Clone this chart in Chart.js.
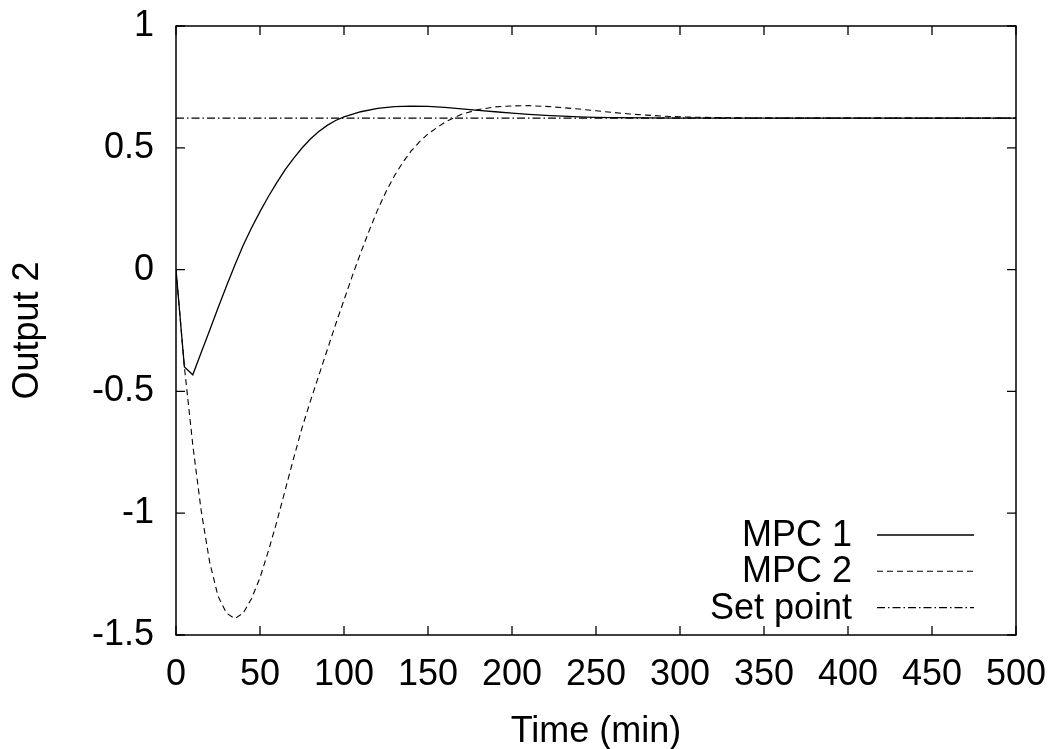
<!DOCTYPE html>
<html>
<head>
<meta charset="utf-8">
<script src="https://cdn.jsdelivr.net/npm/chart.js@4/dist/chart.umd.min.js"></script>
<style>
  html, body { margin: 0; padding: 0; background: #fff; }
  #wrap { width: 1054px; height: 749px; }
</style>
</head>
<body>
<div id="wrap"><canvas id="c" width="1054" height="749"></canvas></div>
<script>
// ---- data ----
const xTicks = [0, 50, 100, 150, 200, 250, 300, 350, 400, 450, 500];
const yTicks = [-1.5, -1, -0.5, 0, 0.5, 1];
const seriesNames = ['MPC 1', 'MPC 2', 'Set point'];

const mpc1Time = [0, 5, 10, 15, 20, 25, 30, 35, 40, 45, 50, 55, 60, 65, 70, 75, 80, 85, 90, 95, 100,
  110, 120, 130, 140, 150, 160, 170, 180, 190, 200, 210, 220, 230, 240, 250, 260, 280, 300, 350, 400, 450, 500];
const mpc1Value = [0, -0.40, -0.432, -0.34, -0.25, -0.158, -0.068, 0.018, 0.1, 0.172, 0.238, 0.3, 0.357, 0.41, 0.457, 0.499, 0.536, 0.567, 0.592, 0.612, 0.627,
  0.648, 0.662, 0.669, 0.671, 0.670, 0.666, 0.660, 0.654, 0.648, 0.642, 0.637, 0.633, 0.630, 0.627, 0.625, 0.624, 0.623, 0.622, 0.622, 0.622, 0.622, 0.622];

const mpc2Time = [0, 5, 10, 15, 20, 25, 30, 35, 40, 45, 50, 55, 60, 65, 70, 75, 80, 85, 90, 95, 100,
  105, 110, 115, 120, 125, 130, 135, 140, 145, 150, 160, 170, 180, 190, 200, 210, 220, 230, 240, 250, 260, 270, 280, 290, 300, 320, 350, 400, 450, 500];
const mpc2Value = [0, -0.40, -0.72, -0.99, -1.20, -1.34, -1.41, -1.433, -1.41, -1.35, -1.265, -1.155, -1.035, -0.905, -0.775, -0.65, -0.54, -0.435, -0.33, -0.225, -0.125,
  -0.025, 0.07, 0.16, 0.245, 0.32, 0.385, 0.44, 0.487, 0.525, 0.557, 0.605, 0.638, 0.657, 0.668, 0.672, 0.673, 0.670, 0.665, 0.659, 0.652, 0.645, 0.639, 0.634, 0.630, 0.627, 0.624, 0.622, 0.622, 0.622, 0.622];

const setPointTime = [0, 500];
const setPointValue = [0.622, 0.622];

// ---- build ----
const toXY = (t, v) => t.map((x, i) => ({ x: x, y: v[i] }));
const FONT = 'Liberation Sans, Arial, Helvetica, sans-serif';

const frame = {
  id: 'frame',
  afterDatasetsDraw(chart) {
    const { ctx, chartArea: a, scales } = chart;
    ctx.save();
    ctx.strokeStyle = '#000';
    ctx.lineWidth = 1.5;
    ctx.strokeRect(a.left, a.top, a.right - a.left, a.bottom - a.top);
    const L = 9;
    ctx.lineWidth = 1.3;
    ctx.beginPath();
    xTicks.forEach(v => {
      const px = scales.x.getPixelForValue(v);
      ctx.moveTo(px, a.bottom); ctx.lineTo(px, a.bottom - L);
      ctx.moveTo(px, a.top); ctx.lineTo(px, a.top + L);
    });
    yTicks.forEach(v => {
      const py = scales.y.getPixelForValue(v);
      ctx.moveTo(a.left, py); ctx.lineTo(a.left + L, py);
      ctx.moveTo(a.right, py); ctx.lineTo(a.right - L, py);
    });
    ctx.stroke();

    // legend (gnuplot style: right-aligned text, sample line to the right)
    const textRight = a.right - 164;
    const lineStart = a.right - 139;
    const lineEnd = a.right - 42;
    const row0 = a.bottom - 100;
    const rowH = 36.3;
    ctx.font = '36px ' + FONT;
    ctx.textAlign = 'right';
    ctx.textBaseline = 'middle';
    ctx.fillStyle = '#000';
    chart.data.datasets.forEach((ds, i) => {
      const y = row0 + i * rowH;
      ctx.fillText(ds.label, textRight, y + 1);
      ctx.beginPath();
      ctx.setLineDash(ds.borderDash || []);
      ctx.lineWidth = ds.borderWidth;
      ctx.strokeStyle = ds.borderColor;
      ctx.moveTo(lineStart, y); ctx.lineTo(lineEnd, y);
      ctx.stroke();
    });
    ctx.restore();
  }
};

new Chart(document.getElementById('c'), {
  type: 'line',
  data: {
    datasets: [
      { label: seriesNames[0], data: toXY(mpc1Time, mpc1Value), borderColor: '#000', borderWidth: 1.3, pointRadius: 0, tension: 0, fill: false },
      { label: seriesNames[1], data: toXY(mpc2Time, mpc2Value), borderColor: '#000', borderWidth: 1.1, borderDash: [6, 4], pointRadius: 0, tension: 0, fill: false },
      { label: seriesNames[2], data: toXY(setPointTime, setPointValue), borderColor: '#000', borderWidth: 1.1, borderDash: [8, 3, 1.5, 3], pointRadius: 0, tension: 0, fill: false }
    ]
  },
  options: {
    responsive: false,
    animation: false,
    devicePixelRatio: 1,
    layout: { padding: { left: 0, right: 38, top: 26, bottom: 0 } },
    plugins: { legend: { display: false }, tooltip: { enabled: false } },
    scales: {
      x: {
        type: 'linear', min: 0, max: 500,
        afterBuildTicks: s => { s.ticks = xTicks.map(v => ({ value: v })); },
        afterFit: s => { s.height = 114; s.paddingLeft = 0; s.paddingRight = 0; },
        grid: { display: false, drawTicks: false },
        border: { display: false },
        ticks: { color: '#000', font: { family: FONT, size: 36 }, padding: 18, maxRotation: 0, autoSkip: false, callback: v => String(v) },
        title: { display: true, text: 'Time (min)', color: '#000', font: { family: FONT, size: 36 }, padding: { top: 0, bottom: -5 } }
      },
      y: {
        type: 'linear', min: -1.5, max: 1,
        afterBuildTicks: s => { s.ticks = yTicks.map(v => ({ value: v })); },
        afterFit: s => { s.width = 176; s.paddingTop = 0; s.paddingBottom = 0; },
        grid: { display: false, drawTicks: false },
        border: { display: false },
        ticks: { color: '#000', font: { family: FONT, size: 36 }, padding: 22, autoSkip: false, callback: v => String(v) },
        title: { display: true, text: 'Output 2', color: '#000', font: { family: FONT, size: 36 }, padding: { top: 6, bottom: 0 } }
      }
    }
  },
  plugins: [frame]
});
</script>
</body>
</html>
